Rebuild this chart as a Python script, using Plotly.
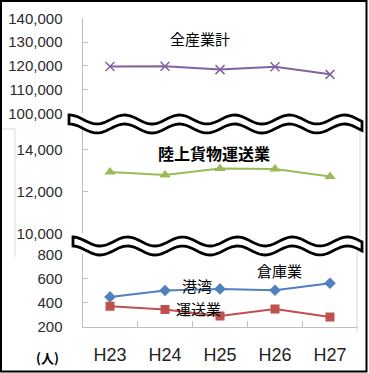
import math
import plotly.graph_objects as go

W, H = 369, 373

categories = ["H23", "H24", "H25", "H26", "H27"]
tick_labels = ["H23", "H24", "H25", "H26", "H27"]

all_industry = [119700, 119800, 118400, 119600, 116400]
land_freight = [12920, 12780, 13090, 13060, 12700]
port_blue = [447, 500, 513, 502, 560]
warehouse_red = [370, 342, 289, 347, 281]

series_names = ["全産業計", "陸上貨物運送業", "港湾倉庫業", "港湾運送業"]

def px_x(p):
    return p / W

def px_y(p):
    return 1 - p / H

X0, X1 = 82.5, 357.5
TEXT = "#2b2b2b"
AX = "#bfbfbf"
FONT = "Liberation Sans"

fig = go.Figure()

panels = [
    ("y", [px_y(113.3), px_y(18.3)], [100000, 140000], 10000),
    ("y2", [px_y(233.3), px_y(128.3)], [10000, 15000], 2000),
    ("y3", [px_y(326.7), px_y(254.3)], [200, 800], 200),
]

fig.add_trace(go.Scatter(x=categories, y=all_industry, yaxis="y", mode="lines+markers",
                         name=series_names[0],
                         line=dict(color="#8064A2", width=2),
                         marker=dict(symbol="x-thin", size=9, line=dict(color="#8064A2", width=1.5))))
fig.add_trace(go.Scatter(x=categories, y=land_freight, yaxis="y2", mode="lines+markers",
                         name=series_names[1],
                         line=dict(color="#9BBB59", width=2),
                         marker=dict(symbol="triangle-up", size=10, color="#9BBB59")))
fig.add_trace(go.Scatter(x=categories, y=port_blue, yaxis="y3", mode="lines+markers",
                         name=series_names[2],
                         line=dict(color="#4F81BD", width=2),
                         marker=dict(symbol="diamond", size=9, color="#4F81BD")))
fig.add_trace(go.Scatter(x=categories, y=warehouse_red, yaxis="y3", mode="lines+markers",
                         name=series_names[3],
                         line=dict(color="#C0504D", width=2),
                         marker=dict(symbol="square", size=9, color="#C0504D")))

layout = dict(
    width=W, height=H,
    margin=dict(l=0, r=0, t=0, b=0, autoexpand=False),
    paper_bgcolor="white", plot_bgcolor="rgba(0,0,0,0)",
    showlegend=False,
    font=dict(family=FONT, color=TEXT, size=15),
    xaxis=dict(domain=[px_x(X0), px_x(X1)], anchor="y3", type="category",
               categoryorder="array", categoryarray=categories,
               tickvals=categories, ticktext=tick_labels,
               range=[-0.5, 4.5], showgrid=False, zeroline=False,
               showline=True, linecolor=AX, linewidth=1,
               ticks="inside", tickson="boundaries", ticklen=6, tickcolor=AX,
               tickfont=dict(size=18, color="#222222"), ticklabelstandoff=12,
               automargin=False),
)
for name, dom, rng, dt in panels:
    key = "yaxis" if name == "y" else "yaxis" + name[1:]
    layout[key] = dict(domain=dom, range=rng, dtick=dt, tick0=rng[0],
                       anchor="x", showgrid=False, zeroline=False,
                       showline=True, linecolor=AX, linewidth=1,
                       ticks="inside", ticklen=5, tickcolor=AX,
                       tickformat=",d", tickfont=dict(size=15, color=TEXT),
                       ticklabelstandoff=16, automargin=False)
fig.update_layout(**layout)

shapes = []

def seg(xa, ya, xb, yb, color="#d9d9d9", w=1):
    shapes.append(dict(type="line", xref="paper", yref="paper",
                       x0=px_x(xa), y0=px_y(ya), x1=px_x(xb), y1=px_y(yb),
                       line=dict(color=color, width=w)))

seg(360, 125, 360, 236)
seg(357, 250, 357, 332)
seg(15, 129, 15, 257)
seg(2, 129, 15, 129)

def wave_band(center, x_start, x_end, gap=9, amp=4.5, period=55.0, trough=97.0):
    n = 120
    top, bot = [], []
    for i in range(n + 1):
        x = x_start + (x_end - x_start) * i / n
        y = center + amp * math.cos(2 * math.pi * (x - trough) / period)
        top.append((x, y))
        bot.append((x, y + gap))
    pts = top + bot[::-1]
    path = "M " + " L ".join(f"{px_x(x):.5f},{px_y(y):.5f}" for x, y in pts) + " Z"
    shapes.append(dict(type="path", xref="paper", yref="paper", path=path,
                       fillcolor="white", line=dict(color="black", width=2.8)))

wave_band(119.5, 69, 362)
wave_band(241.5, 73, 362, trough=100)

shapes.append(dict(type="rect", xref="paper", yref="paper",
                   x0=px_x(1), y0=px_y(371.5), x1=px_x(366.5), y1=px_y(1),
                   line=dict(color="black", width=2), fillcolor="rgba(0,0,0,0)"))
fig.update_layout(shapes=shapes)

JP = "Noto Sans CJK JP"
annots = [
    ("全産業計", 200, 39, 15, False),
    ("陸上貨物運送業", 214, 153, 16, True),
    ("倉庫業", 279, 270, 15, False),
    ("港湾", 197, 285, 15, False),
    ("運送業", 198, 308, 15, False),
    ("(人)", 47, 357, 13, True),
]
for text, x, y, size, bold in annots:
    fig.add_annotation(xref="paper", yref="paper", x=px_x(x), y=px_y(y),
                       text=f"<b>{text}</b>" if bold else text, showarrow=False,
                       xanchor="center", yanchor="middle",
                       font=dict(family=JP, size=size, color="black"))

fig.write_html("out.html", config={"displayModeBar": False},
               post_script="document.body.style.margin='0px';document.body.style.overflow='hidden';")
